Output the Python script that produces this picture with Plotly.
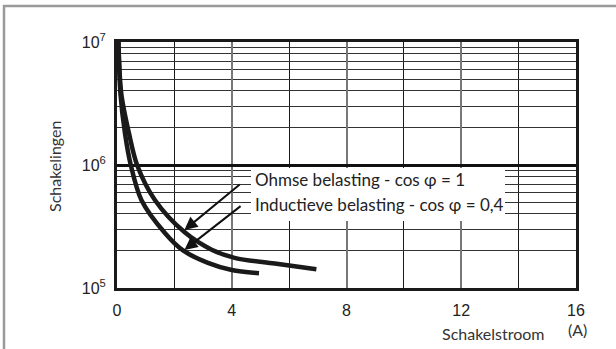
import numpy as np
import plotly.graph_objects as go

# Switching-current axis (A) and number of operations for each load type
ohmic_current = [0.05, 0.15, 0.42, 0.70, 1.32, 2.35, 3.30, 4.13, 5.50, 6.95]
ohmic_cycles = [1.0e7, 3.8e6, 1.8e6, 1.0e6, 5.2e5, 2.85e5, 2.05e5, 1.75e5, 1.58e5, 1.42e5]

inductive_current = [0.05, 0.12, 0.28, 0.48, 0.85, 1.67, 2.30, 3.17, 4.00, 4.95]
inductive_cycles = [1.0e7, 3.8e6, 1.8e6, 1.0e6, 5.2e5, 2.8e5, 2.02e5, 1.6e5, 1.4e5, 1.32e5]

x_ticks = [0, 4, 8, 12, 16]
y_ticks = [1e5, 1e6, 1e7]
y_tick_text = ["10<sup>5</sup>", "10<sup>6</sup>", "10<sup>7</sup>"]
y_minor = [k * 1e5 for k in range(2, 10)] + [k * 1e6 for k in range(2, 10)]

labels = ["Ohmse belasting - cos \u03c6 = 1", "Inductieve belasting - cos \u03c6 = 0,4"]
# arrow tip (on curve) and tail (next to label), in data units
arrow_tips = [(2.35, 2.96e5), (2.35, 2.04e5)]
arrow_tails = [(4.33, 7.1e5), (4.36, 4.73e5)]
label_pos = [(4.75, 7.65e5), (4.75, 4.75e5)]

W, H = 616, 349
L, R, T, B = 117, 40, 42, 61
PW, PH = W - L - R, H - T - B


def px(xp):
    return (xp - L) / PW


def py(yp):
    return (H - B - yp) / PH


TEXT_FONT = "Lato, 'Open Sans', sans-serif"
TICK_FONT = "'Liberation Sans', Arial, sans-serif"

fig = go.Figure()
for xs, ys in [(ohmic_current, ohmic_cycles), (inductive_current, inductive_cycles)]:
    fig.add_trace(go.Scatter(
        x=xs, y=ys, mode="lines", line=dict(color="#1a1a1a", width=4.5, shape="spline", smoothing=0.9),
        hoverinfo="skip", showlegend=False,
    ))

annotations = []
# white panel behind the two labels
annotations.append(dict(
    x=px(251), y=py(168), xref="paper", yref="paper", xanchor="left", yanchor="top",
    text=" ", showarrow=False, width=254, height=53, bgcolor="white", borderpad=0, borderwidth=0,
))
for (tx, ty), (ax, ay) in zip(arrow_tips, arrow_tails):
    annotations.append(dict(
        x=tx, y=np.log10(ty), ax=ax, ay=np.log10(ay), xref="x", yref="y", axref="x", ayref="y",
        text="", showarrow=True, arrowhead=2, arrowsize=1.3, arrowwidth=2, arrowcolor="#111",
    ))
for (lx, ly), txt in zip(label_pos, labels):
    annotations.append(dict(
        x=lx, y=np.log10(ly), xref="x", yref="y", text=txt, showarrow=False,
        xanchor="left", yanchor="middle", font=dict(family=TEXT_FONT, size=17, color="#222"),
    ))

# axis titles
annotations.append(dict(x=px(493), y=py(333), xref="paper", yref="paper",
                        text="Schakelstroom", showarrow=False, xanchor="center", yanchor="middle",
                        font=dict(family=TEXT_FONT, size=16, color="#333")))
annotations.append(dict(x=px(577), y=py(329), xref="paper", yref="paper",
                        text="(A)", showarrow=False, xanchor="center", yanchor="middle",
                        font=dict(family=TEXT_FONT, size=16, color="#333")))
annotations.append(dict(x=px(54), y=py(166), xref="paper", yref="paper",
                        text="Schakelingen", textangle=-90, showarrow=False, xanchor="center", yanchor="middle",
                        font=dict(family=TEXT_FONT, size=16, color="#333")))

# outer gray frame (top and left edges)
frame = dict(color="#9a9a9a", width=2.5)
fig.add_shape(type="line", xref="paper", yref="paper",
              x0=px(3), x1=px(W + 2), y0=py(6), y1=py(6), line=frame, layer="above")
fig.add_shape(type="line", xref="paper", yref="paper",
              x0=px(4), x1=px(4), y0=py(5), y1=py(H + 2), line=frame, layer="above")

fig.update_layout(
    width=W, height=H, margin=dict(l=L, r=R, t=T, b=B),
    paper_bgcolor="white", plot_bgcolor="white",
    annotations=annotations, showlegend=False,
    xaxis=dict(
        range=[0, 16], tickvals=x_ticks, ticks="", showgrid=True, gridcolor="#777", gridwidth=1.5,
        minor=dict(dtick=2, tick0=0, showgrid=True, gridcolor="#1a1a1a", gridwidth=1, ticks=""),
        showline=True, linecolor="#1a1a1a", linewidth=3, mirror=True, zeroline=False,
        tickfont=dict(family=TICK_FONT, size=16, color="#222"), ticklabelstandoff=6, fixedrange=True,
    ),
    yaxis=dict(
        type="log", range=[5, 7], tickvals=y_ticks, ticktext=y_tick_text, ticks="",
        showgrid=True, gridcolor="#111", gridwidth=2.5,
        minor=dict(tickvals=y_minor, showgrid=True, gridcolor="#333", gridwidth=1, ticks=""),
        showline=True, linecolor="#1a1a1a", linewidth=3, mirror=True, zeroline=False,
        tickfont=dict(family=TICK_FONT, size=16, color="#222"), ticklabelstandoff=5, fixedrange=True,
    ),
)

fig.write_html("out.html")
